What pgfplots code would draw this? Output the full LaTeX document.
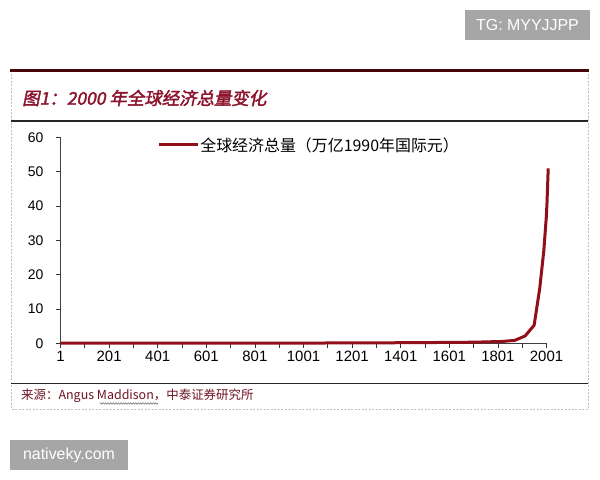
\documentclass[border=0pt]{standalone}
\usepackage{fontspec}
\setmainfont{Liberation Sans}
\newfontfamily\cjk{Noto Sans CJK SC}
\newfontfamily\titlefont{Noto Sans CJK SC}[FakeSlant=0.2,FakeBold=2]
\usepackage{pgfplots}
\pgfplotsset{compat=1.18}
\usetikzlibrary{decorations.pathmorphing}
\definecolor{lred}{RGB}{145,15,25}
\definecolor{tred}{RGB}{140,20,45}
\definecolor{sred}{RGB}{110,20,35}
\definecolor{topc}{RGB}{70,5,10}
\definecolor{wm}{RGB}{166,166,166}
\begin{document}
\begin{tikzpicture}[x=1bp,y=1bp]
\path[fill=white] (0,0) rectangle (600,480);
% watermarks
\fill[wm] (465,440) rectangle (590,470);
\node[white,font=\fontsize{16}{16}\selectfont] at (527.5,455) {TG: MYYJJPP};
\fill[wm] (10,10) rectangle (128,40);
\node[white,font=\fontsize{16}{16}\selectfont] at (69,25) {nativeky.com};
% frame
\draw[gray!50,dash pattern=on 2bp off 1.5bp,line width=0.7bp] (11,409.5) -- (11,70.5) -- (588,70.5) -- (588,409.5);
\draw[topc,line width=2.2bp] (10,409.5) -- (589,409.5);
\draw[black!85,line width=1.2bp] (11,359) -- (588,359);
\draw[black!85,line width=1.5bp] (11,96.5) -- (588,96.5);
\node[anchor=west,tred,font=\titlefont\fontsize{17.5}{17.5}\selectfont,inner sep=0] at (22,382) {图1：2000 年全球经济总量变化};
\node[anchor=west,sred,font=\cjk\fontsize{12.5}{12.5}\selectfont,inner sep=0] at (21,84) {来源：Angus Maddison，中泰证券研究所};
\draw[black!60,line width=0.5bp,decorate,decoration={snake,amplitude=0.8bp,segment length=2.5bp}] (100,76.5) -- (158,76.5);
\begin{axis}[
  at={(60.5bp,136.5bp)}, anchor=south west,
  scale only axis, width=486bp, height=206bp,
  xmin=1, xmax=2001, ymin=0, ymax=60,
  axis x line=bottom, axis y line=left,
  axis line style={-, draw=black!75, line width=1bp},
  xtick={1,201,401,601,801,1001,1201,1401,1601,1801,2001},
  xticklabels={1,201,401,601,801,1001,1201,1401,1601,1801,2001},
  minor xtick={101,301,501,701,901,1101,1301,1501,1701,1901},
  ytick={0,10,20,30,40,50,60},
  tick align=outside,
  major tick length=4.5bp, minor tick length=4.5bp,
  tick style={black!80, line width=0.8bp},
  /pgf/number format/assume math mode=true,
  xticklabel style={font=\fontsize{15}{15}\selectfont},
  yticklabel style={font=\fontsize{14}{14}\selectfont, xshift=-9bp},
  clip=false,
  legend style={at={(0.1992,0.9636)}, anchor=west, draw=none, fill=none,
    inner sep=0pt, outer sep=0pt, nodes={inner sep=1bp},
    font=\cjk\fontsize{16}{16}\selectfont},
  legend image code/.code={\draw[#1, line width=3bp] (0bp,0bp) -- (39bp,0bp);},
]
\addplot[lred, line width=3bp, line join=round] coordinates {
(1,0.105)(1000,0.121)(1500,0.248)(1600,0.331)(1700,0.371)(1820,0.6)
(1870,0.9)(1913,2.2)(1950,5.3)(1973,16.0)(1990,27.1)(2000,36.7)(2003,40.9)(2008,51.0)};
\addlegendentry{全球经济总量（万亿1990年国际元）}
\end{axis}
\end{tikzpicture}
\end{document}
